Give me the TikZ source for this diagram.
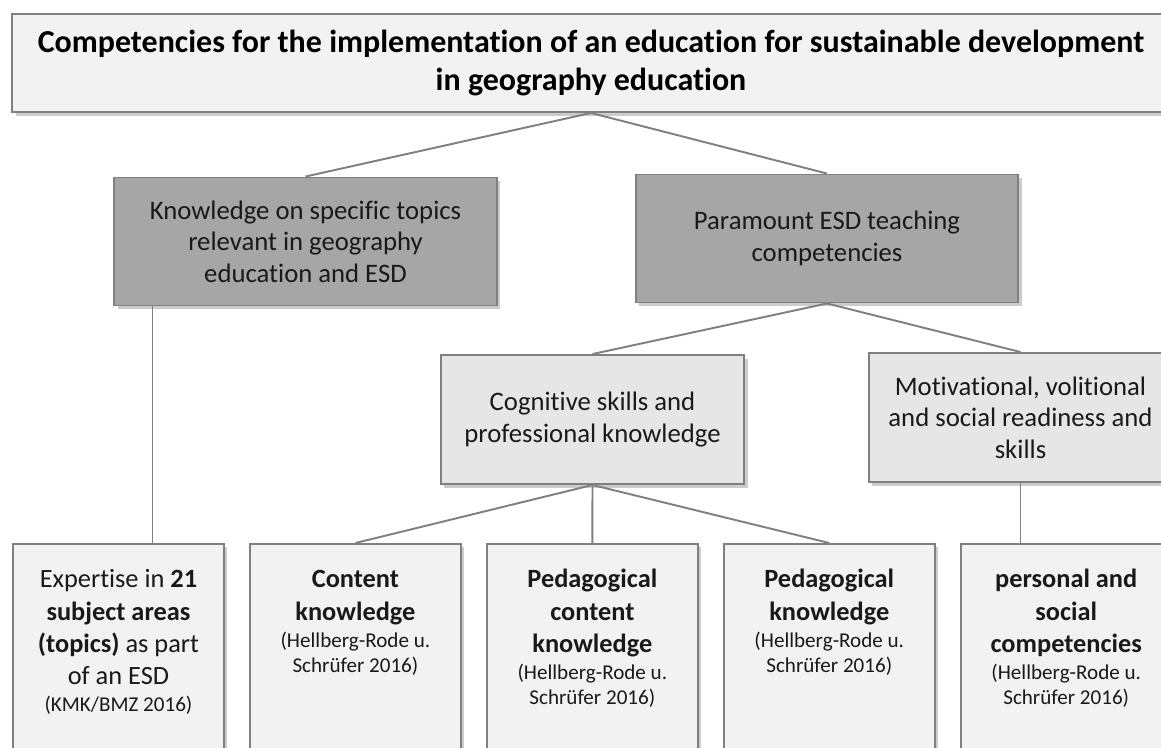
\documentclass[tikz,border=0pt]{standalone}
\usepackage{fontspec}
\setmainfont{Carlito}[Ligatures=NoCommon]
\usetikzlibrary{positioning,shadows}

\definecolor{frameGray}{HTML}{808080}
\definecolor{lightFill}{HTML}{F2F2F2}
\definecolor{midFill}{HTML}{E6E6E6}
\definecolor{darkFill}{HTML}{A6A6A6}

% small source line under a bold heading
\newcommand{\source}[1]{\par{\fontsize{12}{14.4}\selectfont\vspace{1pt}#1\par}}

\begin{document}
\begin{tikzpicture}
  \newdimen\gap
  \gap=0.48cm

  \tikzstyle{box} = [
    % The shape:
    rectangle, inner sep=0pt, align=flush center,
    % The border:
    draw=frameGray, line width=1.1pt,
    % The shadow:
    drop shadow={shadow xshift=0.07cm, shadow yshift=-0.07cm,
                 fill=black!50, opacity=0.4},
    % Font:
    text=black!90, font=\fontsize{15.2}{18}\selectfont
  ];
  \tikzstyle{titleBox} = [
    box, fill=lightFill, minimum width=23.16cm, minimum height=1.96cm,
    text width=23cm, text=black, font=\fontsize{18.2}{21.4}\selectfont\bfseries
  ];
  \tikzstyle{darkBox} = [
    box, fill=darkFill, minimum width=7.65cm, minimum height=2.56cm,
    text width=7.4cm
  ];
  \tikzstyle{midBox} = [
    box, fill=midFill, minimum width=6.07cm, minimum height=2.58cm,
    text width=5.95cm
  ];
  \tikzstyle{leafBox} = [
    box, fill=lightFill, minimum width=4.22cm, text width=4.1cm,
    % Text hangs from the top:
    text height=0.88cm, text depth=3.46cm,
    font=\fontsize{15}{18.3}\selectfont
  ];
  \tikzstyle{link} = [
    draw = frameGray,
    line width=1.1pt
  ];

  \useasboundingbox (0,0) rectangle (23.22,-14.94);
  \clip (0,0) rectangle (23.22,-14.94);

  \node [titleBox] (title) at (11.82,-1.26)
    {Competencies for the implementation of an education for sustainable development\\
     in geography education};

  \node [darkBox] (knowledge) at (6.11,-4.83)
    {Knowledge on specific topics\\relevant in geography\\education and ESD};
  \node [darkBox] (paramount) at (16.54,-4.77)
    {Paramount ESD teaching\\competencies};

  \node [midBox] (cognitive) at (11.85,-8.39)
    {Cognitive skills and\\professional knowledge};
  \node [midBox] (motivational) at (20.41,-8.35)
    {Motivational, volitional\\and social readiness and\\skills};

  \node [leafBox, anchor=north west] (expertise) at (0.24,-10.86)
    {Expertise in \textbf{21}\\\textbf{subject areas}\\\textbf{(topics)} as part\\of an ESD
     \source{(KMK/BMZ 2016)}};
  \node [leafBox, right = \gap of expertise] (content)
    {\textbf{Content}\\\textbf{knowledge}
     \source{(Hellberg-Rode u.\\Schrüfer 2016)}};
  \node [leafBox, right = \gap of content] (pedContent)
    {\textbf{Pedagogical}\\\textbf{content}\\\textbf{knowledge}
     \source{(Hellberg-Rode u.\\Schrüfer 2016)}};
  \node [leafBox, right = \gap of pedContent] (pedKnowledge)
    {\textbf{Pedagogical}\\\textbf{knowledge}
     \source{(Hellberg-Rode u.\\Schrüfer 2016)}};
  \node [leafBox, right = \gap of pedKnowledge] (personal)
    {\textbf{personal and}\\\textbf{social}\\\textbf{competencies}
     \source{(Hellberg-Rode u.\\Schrüfer 2016)}};

  \path [link] (title.south) to (knowledge.north);
  \path [link] (title.south) to (paramount.north);
  \path [link] (paramount.south) to (cognitive.north);
  \path [link] (paramount.south) to (motivational.north);
  \path [link] (cognitive.south) to (content.north);
  \path [link] (cognitive.south) to (pedContent.north);
  \path [link] (cognitive.south) to (pedKnowledge.north);
  \path [link] (motivational.south) to (motivational.south |- personal.north);
  \path [link] ([xshift=0.68cm]expertise.north)
               to ([xshift=0.68cm]expertise.north |- knowledge.south);
\end{tikzpicture}
\end{document}
